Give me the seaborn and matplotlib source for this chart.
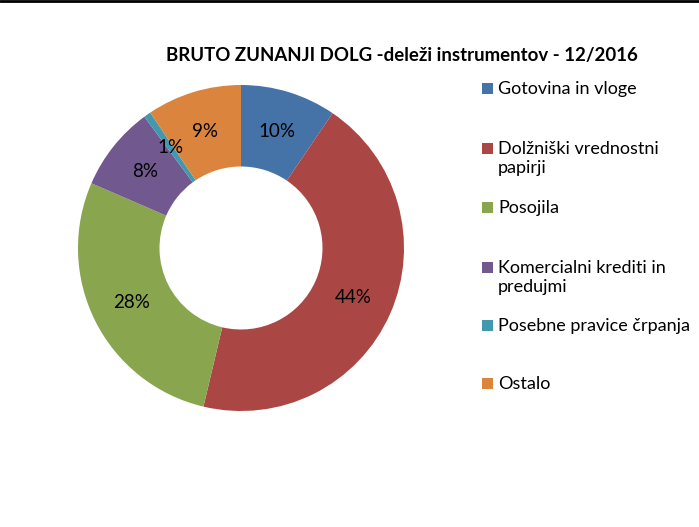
import matplotlib
matplotlib.use("Agg")
import matplotlib.pyplot as plt
import seaborn as sns
from matplotlib.patches import Rectangle
from matplotlib.lines import Line2D

sns.set_theme(style="white")
plt.rcParams['font.family'] = ['Lato', 'DejaVu Sans']

categories = ["Gotovina in vloge", "Dolžniški vrednostni\npapirji", "Posojila",
              "Komercialni krediti in\npredujmi", "Posebne pravice črpanja", "Ostalo"]
shares = [9.5, 44.2, 27.8, 8.4, 0.7, 9.4]
pct_labels = ["10%", "44%", "28%", "8%", "1%", "9%"]
colors = ["#4572A7", "#AA4643", "#89A54E", "#71588F", "#4198AF", "#DB843D"]
title = "BRUTO ZUNANJI DOLG -deleži instrumentov - 12/2016"

W, H = 699, 527
fig = plt.figure(figsize=(W / 100, H / 100), dpi=100)
fig.patch.set_facecolor("white")

cx, cy, R = 241, 248, 163
ax = fig.add_axes([(cx - R) / W, (H - cy - R) / H, 2 * R / W, 2 * R / H])
wedges, texts, autotexts = ax.pie(
    shares, colors=colors, startangle=90, counterclock=False, radius=1,
    wedgeprops=dict(width=0.5, edgecolor="none"),
    autopct="%1.0f%%", pctdistance=0.75,
    textprops=dict(fontsize=13.5, color="black"))
for t, lab in zip(autotexts, pct_labels):
    t.set_text(lab)
ax.set_xlim(-1, 1)
ax.set_ylim(-1, 1)
ax.axis("off")

fig.text(402 / W, 1 - 56 / H, title, ha="center", va="center",
         fontsize=13.4, fontweight="bold", color="black")

# legend
ys = [88, 148, 207, 267, 325, 383]
for lab, col, y in zip(categories, colors, ys):
    fig.add_artist(Rectangle((482 / W, 1 - (y + 5.5) / H), 11 / W, 11 / H,
                             transform=fig.transFigure, facecolor=col, edgecolor="none"))
    fig.text(498 / W, 1 - (y - 7) / H, lab, ha="left", va="top", fontsize=13,
             color="black", linespacing=1.2)

fig.add_artist(Line2D([0, 1], [1 - 1.3 / H, 1 - 1.3 / H], transform=fig.transFigure,
                      color="black", linewidth=2.0))

fig.savefig("out.png", dpi=100, facecolor="white")
